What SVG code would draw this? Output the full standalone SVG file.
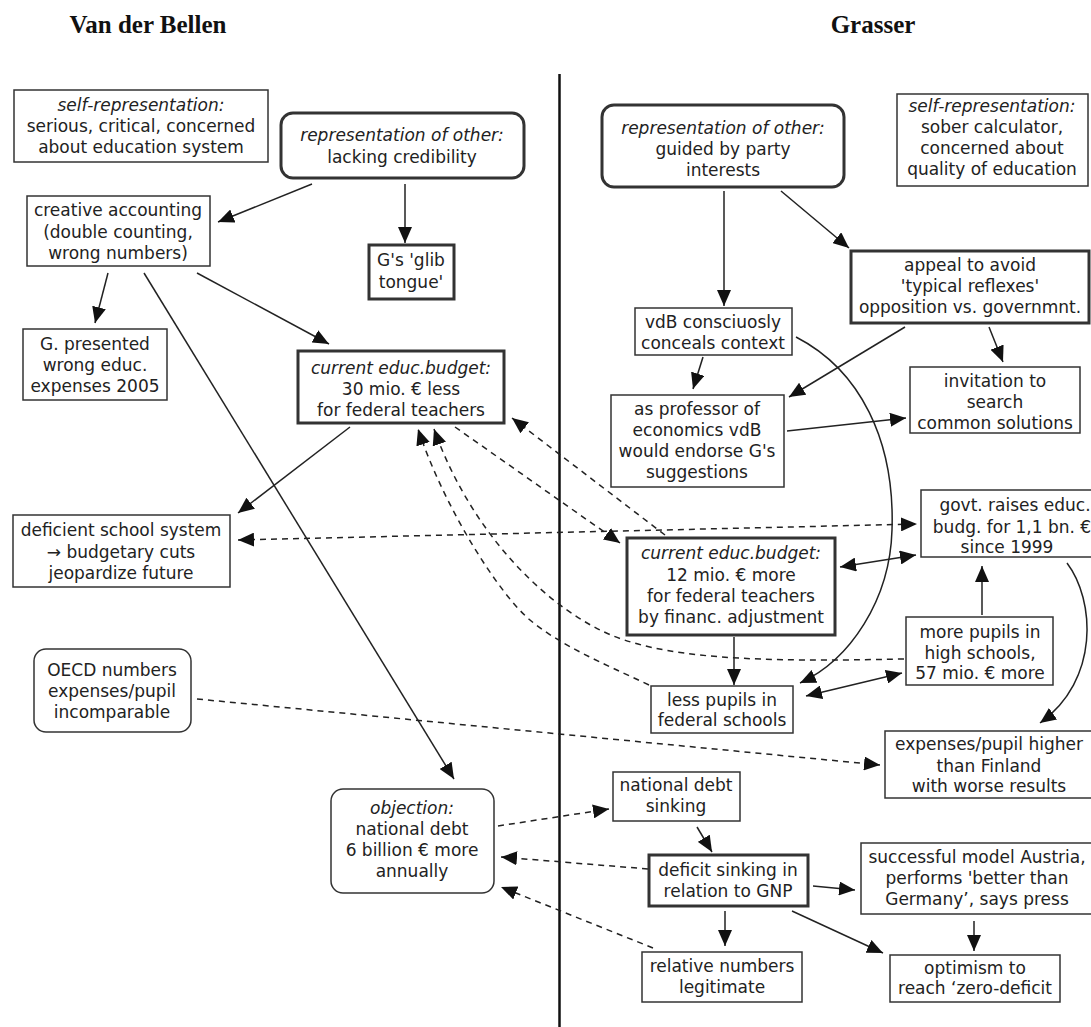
<svg xmlns="http://www.w3.org/2000/svg" width="1091" height="1027" viewBox="0 0 1091 1027">
<style>
.n rect{fill:#fff;stroke:#333;stroke-width:1.5}
.k rect{stroke-width:3}
text{font-family:"DejaVu Sans",Verdana,sans-serif;font-size:17px;fill:#222;text-anchor:middle}
.i{font-style:italic}
.t{font-family:"Liberation Serif","Times New Roman",serif;font-weight:bold;font-size:25px;fill:#111}
.e path{fill:none;stroke:#222;stroke-width:1.5}
.e .s{marker-end:url(#a)}
.e .b{marker-start:url(#a);marker-end:url(#a)}
.e .d{stroke-dasharray:6 5}
</style>
<defs>
<marker id="a" markerUnits="userSpaceOnUse" viewBox="0 0 16 14" markerWidth="16" markerHeight="14" refX="16" refY="7" orient="auto-start-reverse"><path d="M0,0 L16,7 L0,14 z" fill="#111"/></marker>
</defs>
<rect width="1091" height="1027" fill="#fff"/>
<text class="t" x="148" y="33">Van der Bellen</text>
<text class="t" x="873" y="33">Grasser</text>
<path d="M559.5,74 L559.5,1027" stroke="#111" stroke-width="2.5" fill="none"/>

<g class="e">
<path class="s" d="M312,184 L218,222"/>
<path class="s" d="M405,184 L405,243"/>
<path class="s" d="M108,273 L95,323"/>
<path class="s" d="M197,273 L329,344"/>
<path class="s" d="M144,273 L454,779"/>
<path class="s" d="M350,427 L238,513"/>
<path class="s" d="M724,191 L724,306"/>
<path class="s" d="M781,191 L849,248"/>
<path class="s" d="M703,357 L693,389"/>
<path class="s" d="M905,327 L789,397"/>
<path class="s" d="M989,327 L1003,362"/>
<path class="s" d="M787,431 L906,418"/>
<path class="s" d="M796,337 C860,370 895,440 892,530 C890,600 850,660 800,683"/>
<path class="b" d="M840,567 L916,555"/>
<path class="s" d="M982,615 L982,566"/>
<path class="s" d="M734,637 L734,685"/>
<path class="b" d="M806,696 L902,673"/>
<path class="s" d="M1067,563 C1095,600 1100,680 1040,723"/>
<path class="s" d="M697,827 L712,852"/>
<path class="s" d="M813,886 L855,890"/>
<path class="s" d="M725,911 L725,946"/>
<path class="s" d="M792,911 L883,953"/>
<path class="s" d="M974,921 L974,951"/>
<path class="b d" d="M238,540 L917,524"/>
<path class="s d" d="M455,427 L620,543"/>
<path class="s d" d="M665,535 L512,418"/>
<path class="s d" d="M904,659 C760,662 660,660 600,630 S470,530 434,429"/>
<path class="s d" d="M649,685 C600,662 560,645 530,620 S445,510 418,429"/>
<path class="s d" d="M197,699 L880,765"/>
<path class="s d" d="M498,826 L609,809"/>
<path class="s d" d="M648,869 L501,857"/>
<path class="s d" d="M653,948 L501,887"/>
</g>

<g id="selfrep-vdb" class="n"><rect x="14" y="90" width="254" height="72"/>
<text x="141" y="111" class="i">self-representation:</text><text x="141" y="132">serious, critical, concerned</text><text x="141" y="153">about education system</text></g>
<g id="other-vdb" class="n k"><rect x="281" y="113" width="243" height="65" rx="12"/>
<text x="402" y="141" class="i">representation of other:</text><text x="402" y="163">lacking credibility</text></g>
<g id="creative" class="n"><rect x="27" y="196" width="183" height="70"/>
<text x="118" y="216">creative accounting</text><text x="118" y="238">(double counting,</text><text x="118" y="259">wrong numbers)</text></g>
<g id="glib" class="n k"><rect x="369" y="245" width="85" height="54"/>
<text x="411" y="266">G's 'glib</text><text x="411" y="288">tongue'</text></g>
<g id="gpresented" class="n"><rect x="23" y="329" width="144" height="71"/>
<text x="95" y="350">G. presented</text><text x="95" y="371">wrong educ.</text><text x="95" y="392">expenses 2005</text></g>
<g id="cur30" class="n k"><rect x="298" y="351" width="206" height="72"/>
<text x="401" y="374" class="i">current educ.budget:</text><text x="401" y="395">30 mio. € less</text><text x="401" y="416">for federal teachers</text></g>
<g id="deficient" class="n"><rect x="13" y="515" width="217" height="72"/>
<text x="121" y="536">deficient school system</text><text x="121" y="558">→ budgetary cuts</text><text x="121" y="579">jeopardize future</text></g>
<g id="oecd" class="n"><rect x="34" y="649" width="157" height="83" rx="12"/>
<text x="112" y="676">OECD numbers</text><text x="112" y="697">expenses/pupil</text><text x="112" y="718">incomparable</text></g>
<g id="objection" class="n"><rect x="331" y="789" width="163" height="104" rx="12"/>
<text x="412" y="814" class="i">objection:</text><text x="412" y="835">national debt</text><text x="412" y="856">6 billion € more</text><text x="412" y="877">annually</text></g>

<g id="other-g" class="n k"><rect x="602" y="105" width="242" height="82" rx="12"/>
<text x="723" y="134" class="i">representation of other:</text><text x="723" y="155">guided by party</text><text x="723" y="176">interests</text></g>
<g id="selfrep-g" class="n"><rect x="897" y="94" width="191" height="92"/>
<text x="992" y="112" class="i">self-representation:</text><text x="992" y="133">sober calculator,</text><text x="992" y="154">concerned about</text><text x="992" y="175">quality of education</text></g>
<g id="appeal" class="n k"><rect x="851" y="251" width="238" height="72"/>
<text x="970" y="271">appeal to avoid</text><text x="970" y="292">'typical reflexes'</text><text x="970" y="313">opposition vs. governmnt.</text></g>
<g id="conceals" class="n"><rect x="635" y="308" width="157" height="47"/>
<text x="713" y="328">vdB consciuosly</text><text x="713" y="349">conceals context</text></g>
<g id="professor" class="n"><rect x="611" y="395" width="173" height="92"/>
<text x="697" y="415">as professor of</text><text x="697" y="436">economics vdB</text><text x="697" y="457">would endorse G's</text><text x="697" y="478">suggestions</text></g>
<g id="invitation" class="n"><rect x="910" y="367" width="170" height="66"/>
<text x="995" y="387">invitation to</text><text x="995" y="408">search</text><text x="995" y="429">common solutions</text></g>
<g id="govt" class="n"><rect x="921" y="490" width="180" height="67"/>
<text x="1015" y="511">govt. raises educ.</text><text x="1012" y="533">budg. for 1,1 bn. €</text><text x="1007" y="553">since 1999</text></g>
<g id="cur12" class="n k"><rect x="627" y="538" width="208" height="97"/>
<text x="731" y="559" class="i">current educ.budget:</text><text x="731" y="581">12 mio. € more</text><text x="731" y="602">for federal teachers</text><text x="731" y="623">by financ. adjustment</text></g>
<g id="morepupils" class="n"><rect x="906" y="617" width="147" height="68"/>
<text x="980" y="638">more pupils in</text><text x="980" y="659">high schools,</text><text x="980" y="679">57 mio. € more</text></g>
<g id="lesspupils" class="n"><rect x="651" y="686" width="142" height="47"/>
<text x="722" y="706">less pupils in</text><text x="722" y="726">federal schools</text></g>
<g id="expenses" class="n"><rect x="885" y="731" width="216" height="67"/>
<text x="989" y="750">expenses/pupil higher</text><text x="989" y="772">than Finland</text><text x="989" y="792">with worse results</text></g>
<g id="natdebt" class="n"><rect x="613" y="772" width="127" height="49"/>
<text x="676" y="791">national debt</text><text x="676" y="812">sinking</text></g>
<g id="deficit" class="n k"><rect x="649" y="855" width="159" height="51"/>
<text x="728" y="876">deficit sinking in</text><text x="728" y="897">relation to GNP</text></g>
<g id="successful" class="n"><rect x="861" y="843" width="240" height="71"/>
<text x="977" y="863">successful model Austria,</text><text x="977" y="884">performs 'better than</text><text x="977" y="905">Germany’, says press</text></g>
<g id="relative" class="n"><rect x="642" y="952" width="160" height="50"/>
<text x="722" y="972">relative numbers</text><text x="722" y="993">legitimate</text></g>
<g id="optimism" class="n"><rect x="890" y="955" width="170" height="47"/>
<text x="975" y="974">optimism to</text><text x="975" y="994">reach ‘zero-deficit</text></g>
</svg>
